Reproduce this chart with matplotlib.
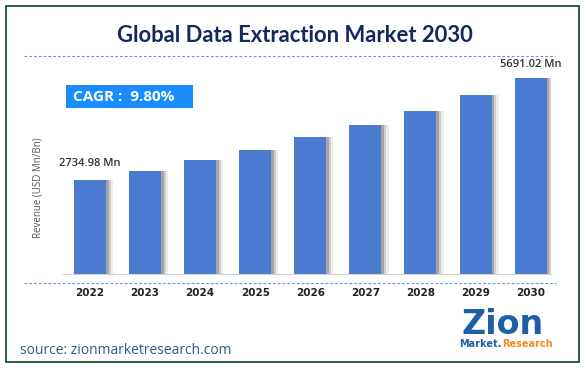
import numpy as np
import matplotlib.pyplot as plt
from matplotlib.patches import Rectangle
from matplotlib.lines import Line2D

# Data
years = ['2022', '2023', '2024', '2025', '2026', '2027', '2028', '2029', '2030']
revenue = [2734.98, 3000, 3300, 3615, 3965, 4330, 4725, 5190, 5691.02]
first_label = '2734.98 Mn'
last_label = '5691.02 Mn'
cagr = 'CAGR :  9.80%'

W, H = 587, 371
fig = plt.figure(figsize=(W / 100, H / 100), dpi=100)

def fx(px):
    return px / W

def fy(py):
    return 1 - py / H

# frame
fig.patches.append(Rectangle((fx(6), fy(362)), fx(573), (356) / H, transform=fig.transFigure,
                             fill=False, edgecolor='#1e4d3a', linewidth=1.3))

# title
fig.text(fx(295), fy(36), 'Global Data Extraction Market 2030', ha='center', va='center',
         fontsize=15.8, fontweight='bold', color='#0f2a5e', family='Lato')
fig.add_artist(Line2D([fx(24), fx(555)], [fy(56), fy(56)], transform=fig.transFigure,
                      color='#6b93d6', linestyle=(0, (2.5, 1.8)), linewidth=0.8))
fig.add_artist(Line2D([fx(24), fx(556)], [fy(283), fy(283)], transform=fig.transFigure,
                      color='#6b93d6', linestyle=(0, (2.5, 1.8)), linewidth=0.8))

# axes
ax = fig.add_axes([fx(63), fy(274), fx(551 - 63), (274 - 60) / H])
x = np.arange(len(years))
width = 0.58
# soft shadow
for off, a in [(0.05, 0.35), (0.09, 0.2), (0.13, 0.1)]:
    ax.bar(x + off, revenue, width, color='#555555', alpha=a, zorder=1, linewidth=0)
ax.bar(x, revenue, width, color='#4a7bd0', zorder=2, linewidth=0)
ax.set_xlim(-0.49, 8.37)
ax.set_ylim(0, 6214)
for s in ['top', 'right', 'left']:
    ax.spines[s].set_visible(False)
ax.spines['bottom'].set_color('#d0d0d0')
ax.set_yticks([])
ax.set_xticks(x)
ax.set_xticklabels(years, fontsize=7.5, fontweight='bold', color='#222222', family='Liberation Sans Narrow')
ax.tick_params(axis='x', length=0, pad=10)

ax.annotate(first_label, (x[0], revenue[0]), xytext=(0, 8), textcoords='offset points',
            ha='center', va='bottom', fontsize=8, fontweight='semibold', color='#333333', family='Open Sans')
ax.annotate(last_label, (x[-1], revenue[-1]), xytext=(0, 6), textcoords='offset points',
            ha='center', va='bottom', fontsize=8, fontweight='semibold', color='#333333', family='Open Sans')

fig.text(fx(38), fy(188), 'Revenue (USD Mn/Bn)', rotation=90, ha='center', va='center',
         fontsize=7, color='#555555', family='Open Sans')

# CAGR box
fig.patches.append(Rectangle((fx(66), fy(108)), fx(127), 23 / H, transform=fig.transFigure,
                             facecolor='#1a8cff', edgecolor='none'))
fig.text(fx(73), fy(97), cagr, ha='left', va='center', fontsize=11, fontweight='bold',
         color='white', family='Open Sans')

# source
fig.text(fx(20), fy(350), 'source: zionmarketresearch.com', ha='left', va='center',
         fontsize=10, color='#2b5b8c', family='Open Sans')

# logo
fig.text(fx(503), fy(324), 'Zion', ha='center', va='center', fontsize=24, fontweight='bold',
         color='#1f5fa8', family='DejaVu Sans')
fig.text(fx(502), fy(344), 'Market.', ha='right', va='center', fontsize=7, fontweight='bold',
         color='#1f5fa8', family='DejaVu Sans')
fig.text(fx(502), fy(344), 'Research', ha='left', va='center', fontsize=7, fontweight='bold',
         color='#f28c1a', family='DejaVu Sans')

fig.savefig('out.png', dpi=100)
